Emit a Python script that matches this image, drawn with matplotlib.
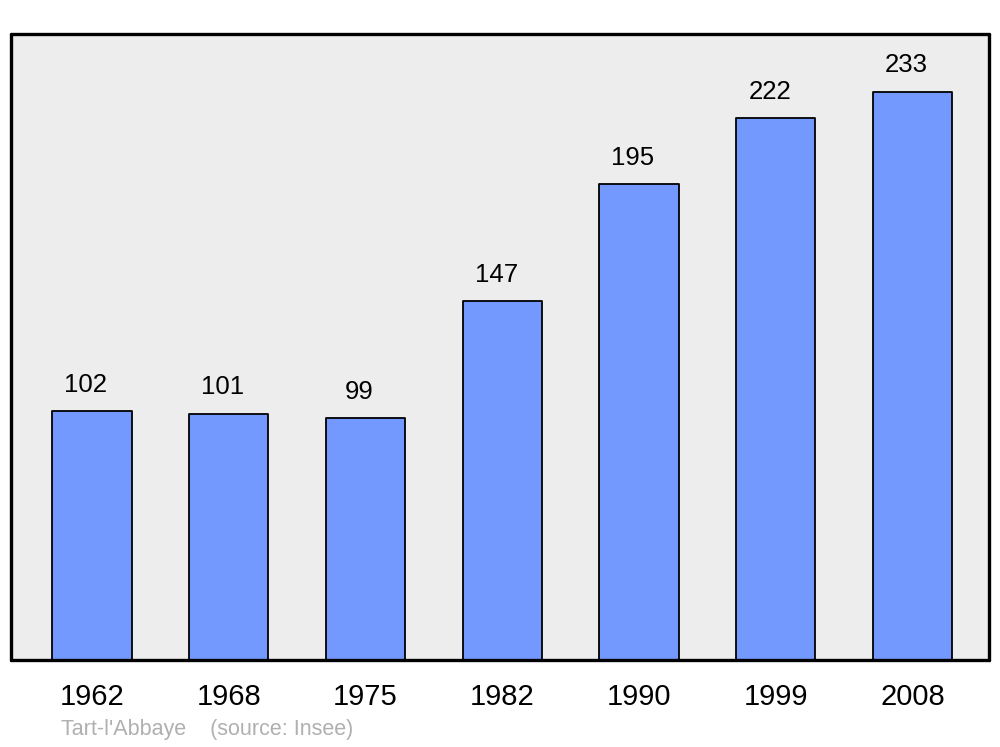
import matplotlib
matplotlib.use("Agg")
import matplotlib.pyplot as plt

plt.rcParams['font.family'] = ['Liberation Sans', 'DejaVu Sans']

# Données de population
annees = ["1962", "1968", "1975", "1982", "1990", "1999", "2008"]
population = [102, 101, 99, 147, 195, 222, 233]

fig = plt.figure(figsize=(10, 7.47), dpi=100)
ax = fig.add_axes([0.011, 1 - 660 / 747, 0.978, (660 - 34) / 747])
ax.set_facecolor("#ededed")

pos = list(range(len(annees)))
barres = ax.bar(pos, population, width=0.58, color="#7399ff",
                edgecolor="black", linewidth=1.3)
for b in barres:
    b.set_joinstyle("round")

# Étiquettes au-dessus des barres
for x, v in zip(pos, population):
    ax.text(x - 0.045, v + 10.8, str(v), ha="center", va="center", fontsize=18.5)

ax.set_xlim(-0.592, 6.559)
ax.set_ylim(0, 256.6)
ax.set_xticks(pos)
ax.set_xticklabels(annees, fontsize=21)
ax.set_yticks([])
ax.tick_params(axis="x", length=0, pad=16.5)

for s in ax.spines.values():
    s.set_linewidth(2.4)
    s.set_joinstyle("round")
    s.set_capstyle("round")

fig.text(0.061, 1 - 730 / 747, "Tart-l'Abbaye    (source: Insee)",
         fontsize=15.5, color="#b0b0b0", va="center", ha="left")

fig.savefig("out.png", dpi=100)
